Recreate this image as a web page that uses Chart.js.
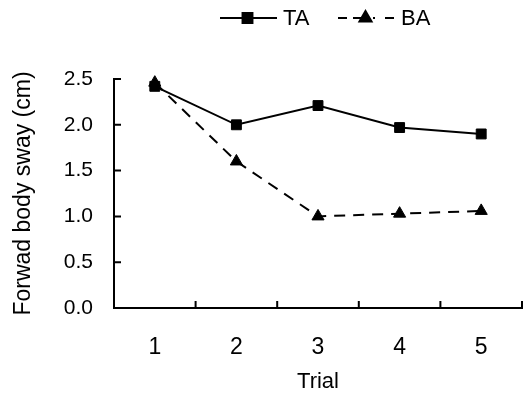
<!DOCTYPE html>
<html>
<head>
<meta charset="utf-8">
<script src="https://cdn.jsdelivr.net/npm/chart.js@4"></script>
<style>
  html, body { margin: 0; padding: 0; background: #fff; }
  #wrap { width: 531px; height: 393px; }
</style>
</head>
<body>
<div id="wrap"><canvas id="sway"></canvas></div>
<script>
const trials = ['1', '2', '3', '4', '5'];
const taValues = [2.42, 2.0, 2.21, 1.97, 1.9];
const baValues = [2.46, 1.6, 1.0, 1.03, 1.06];
const yTicks = [0, 0.5, 1.0, 1.5, 2.0, 2.5];

const FONT = 'Liberation Sans, Arial, sans-serif';

// inner tick marks + line/marker legend
const innerTicks = {
  id: 'innerTicks',
  afterDraw(chart) {
    const c = chart.ctx;
    const x = chart.scales.x, y = chart.scales.y;
    c.save();
    c.strokeStyle = '#000';
    c.lineWidth = 2;
    c.beginPath();
    yTicks.forEach(v => {
      const py = y.getPixelForValue(v);
      c.moveTo(x.left, py);
      c.lineTo(x.left + 7, py);
    });
    for (let i = 0; i < trials.length; i++) {
      const px = i < trials.length - 1
        ? (x.getPixelForValue(i) + x.getPixelForValue(i + 1)) / 2
        : x.right;
      c.moveTo(px, x.top);
      c.lineTo(px, x.top - 7);
    }
    c.stroke();

    // legend
    const ly = 18;
    const items = [
      { ds: 0, x0: 220, x1: 277, tx: 283, dash: [] },
      { ds: 1, x0: 338, x1: 395, tx: 401, dash: [9, 6, 9, 11, 2, 10] }
    ];
    items.forEach(it => {
      const ds = chart.data.datasets[it.ds];
      c.beginPath();
      c.setLineDash(it.dash);
      c.lineWidth = 2;
      c.moveTo(it.x0, ly);
      c.lineTo(it.x1, ly);
      c.stroke();
      c.setLineDash([]);
      Chart.helpers.drawPoint(c, {
        pointStyle: ds.pointStyle, radius: ds.pointRadius, borderWidth: 1, rotation: 0
      }, (it.x0 + it.x1) / 2 - 1, ly);
      c.fillStyle = '#000';
      c.font = '22px ' + FONT;
      c.textBaseline = 'middle';
      c.fillText(ds.label, it.tx, ly + 1);
    });
    c.restore();
  }
};

new Chart(document.getElementById('sway'), {
  type: 'line',
  data: {
    labels: trials,
    datasets: [{
      label: 'TA',
      data: taValues,
      borderColor: '#000',
      backgroundColor: '#000',
      borderWidth: 2,
      pointStyle: 'rect',
      pointRadius: 7,
      pointBorderWidth: 1,
      tension: 0,
      clip: false
    }, {
      label: 'BA',
      data: baValues,
      borderColor: '#000',
      backgroundColor: '#000',
      borderWidth: 2,
      borderDash: [11, 8],
      pointStyle: 'triangle',
      pointRadius: 7,
      pointBorderWidth: 1,
      tension: 0,
      clip: false
    }]
  },
  options: {
    responsive: true,
    maintainAspectRatio: false,
    animation: false,
    layout: { padding: { top: 79, right: 9, left: 0, bottom: 0 } },
    plugins: { legend: { display: false }, tooltip: { enabled: false } },
    scales: {
      x: {
        offset: true,
        grid: { display: false, drawTicks: false },
        border: { display: true, color: '#000', width: 2 },
        ticks: { color: '#000', font: { family: FONT, size: 23 }, padding: 26 },
        title: { display: true, text: 'Trial', color: '#000', font: { family: FONT, size: 22, lineHeight: 1 }, padding: { top: 0, bottom: 0 } },
        afterFit(s) { s.height = 85; }
      },
      y: {
        min: 0, max: 2.5,
        afterBuildTicks(s) { s.ticks = yTicks.map(v => ({ value: v })); },
        grid: { display: false, drawTicks: false },
        border: { display: true, color: '#000', width: 2 },
        ticks: { color: '#000', font: { family: FONT, size: 21 }, padding: 21,
                 callback: v => v.toFixed(1) },
        title: { display: true, text: 'Forwad body sway (cm)', color: '#000', font: { family: FONT, size: 23 }, padding: { top: 10, bottom: 0 } },
        afterFit(s) { s.width = 114; }
      }
    }
  },
  plugins: [innerTicks]
});
</script>
</body>
</html>
